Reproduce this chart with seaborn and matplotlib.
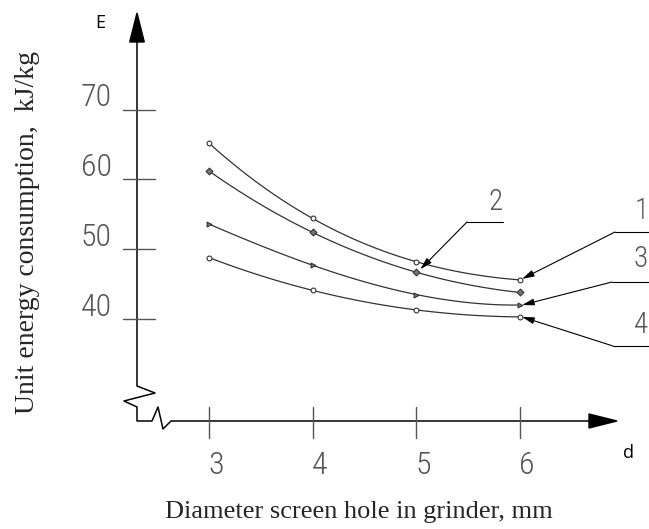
import numpy as np
import pandas as pd
import matplotlib
matplotlib.use('Agg')
import matplotlib.pyplot as plt
import seaborn as sns

# values
diameter = [3, 4, 5, 6]
energy_1 = [65.2, 54.4, 48.2, 45.6]
energy_2 = [61.2, 52.4, 46.7, 43.8]
energy_3 = [53.6, 47.7, 43.5, 42.0]
energy_4 = [48.8, 44.1, 41.3, 40.3]
curve_labels = ["1", "2", "3", "4"]
y_ticks = [40, 50, 60, 70]
x_ticks = [3, 4, 5, 6]

sns.set_style("white")
plt.rcParams['font.family'] = ['DejaVu Sans']

# pixel <-> data helpers (figure is drawn like a CAD sheet)
def dx(p):
    return 3 + (p - 209) / 103.7

def dy(p):
    return 40 + (319 - p) / 6.98

def px(x):
    return 209 + (x - 3) * 103.7

def py(y):
    return 319 - (y - 40) * 6.98

cad_font = ['Roboto Condensed', 'Liberation Sans Narrow', 'Roboto', 'DejaVu Sans']
serif_font = ['Liberation Serif', 'DejaVu Serif']
sans_font = ['Open Sans', 'Liberation Sans', 'DejaVu Sans']

fig = plt.figure(figsize=(6.49, 5.29), dpi=100)
ax = fig.add_axes([0, 0, 1, 1])
ax.set_xlim(dx(0), dx(649))
ax.set_ylim(dy(529), dy(0))
ax.axis('off')

df = pd.DataFrame({
    "d": diameter * 4,
    "E": energy_1 + energy_2 + energy_3 + energy_4,
    "curve": sum([[c] * len(diameter) for c in curve_labels], []),
})

line_col = "#333333"
markers = {"1": "o", "2": "D", "3": ">", "4": "o"}
for c in curve_labels:
    sub = df[df["curve"] == c]
    sns.regplot(data=sub, x="d", y="E", order=3, ci=None, scatter=False,
                truncate=True, ax=ax, color=line_col, line_kws={"lw": 0.9})
    filled = c in ("2", "3")
    sns.scatterplot(data=sub, x="d", y="E", ax=ax, marker=markers[c], s=12,
                    facecolor="#777777" if filled else "white",
                    edgecolor=line_col, linewidth=0.8, zorder=3)
ax.set_xlabel("")
ax.set_ylabel("")

# y axis with break
ax.plot([dx(137), dx(137), dx(155), dx(124), dx(137), dx(137),
         dx(152), dx(158), dx(163), dx(171), dx(589)],
        [dy(42), dy(386), dy(393), dy(401), dy(407), dy(421),
         dy(421), dy(407), dy(429), dy(421), dy(421)],
        color="black", lw=1.1)
ax.fill([dx(137), dx(129.7), dx(144.3)], [dy(13), dy(42), dy(42)], color="black")
ax.fill([dx(617), dx(589), dx(589)], [dy(421), dy(414), dy(428)], color="black")

tick_col = "#555555"
tick_kw = dict(fontsize=23, color=tick_col, family=cad_font,
               fontweight="light", fontstretch="condensed")
for t in y_ticks:
    ax.plot([dx(123), dx(155)], [t, t], color=tick_col, lw=1.0)
    ax.text(dx(112), dy(py(t) - 12), str(t), ha="right", va="center", **tick_kw)
for t in x_ticks:
    ax.plot([t, t], [dy(406.5), dy(438)], color=tick_col, lw=1.0)
    ax.text(dx(px(t) + 7), dy(465), str(t), ha="center", va="center", **tick_kw)

ax.text(dx(100), dy(23), "E", ha="center", va="center", fontsize=13,
        color="black", family=sans_font)
ax.text(dx(628), dy(453), "d", ha="center", va="center", fontsize=13,
        color="black", family=sans_font)

# leader lines with labels
arrow_kw = dict(arrowstyle="-|>,head_length=0.9,head_width=0.25", mutation_scale=8,
                lw=0.8, color="black", shrinkA=0, shrinkB=0)
leaders = [
    ((6, energy_1[-1]), 2, 1, 615, 232, 649, "1", 642, 211),
    ((6, energy_3[-1]), 2, 0, 612, 282, 649, "3", 641, 259),
    ((6, energy_4[-1]), 2, 0, 613, 346, 649, "4", 641, 325),
    ((5, energy_2[2]), 4, 3, 467, 222, 503, "2", 496, 202),
]
label_kw = dict(tick_kw, fontsize=21)
for (x, y), ox, oy, kx, ky, ex, lab, lx, ly in leaders:
    tip = (dx(px(x) + ox), dy(py(y) - oy))
    ax.annotate("", xy=tip, xytext=(dx(kx), dy(ky)), arrowprops=arrow_kw)
    ax.plot([dx(kx), dx(ex)], [dy(ky), dy(ky)], color="black", lw=0.8)
    ax.text(dx(lx), dy(ly), lab, ha="center", va="center", **label_kw)

ax.text(dx(28), dy(232), "Unit energy consumption,  kJ/kg", rotation=90,
        ha="center", va="center", fontsize=20, family=serif_font)
ax.text(dx(359), dy(512), "Diameter screen hole in grinder, mm",
        ha="center", va="center", fontsize=19, family=serif_font)

fig.savefig("out.png", dpi=100)
